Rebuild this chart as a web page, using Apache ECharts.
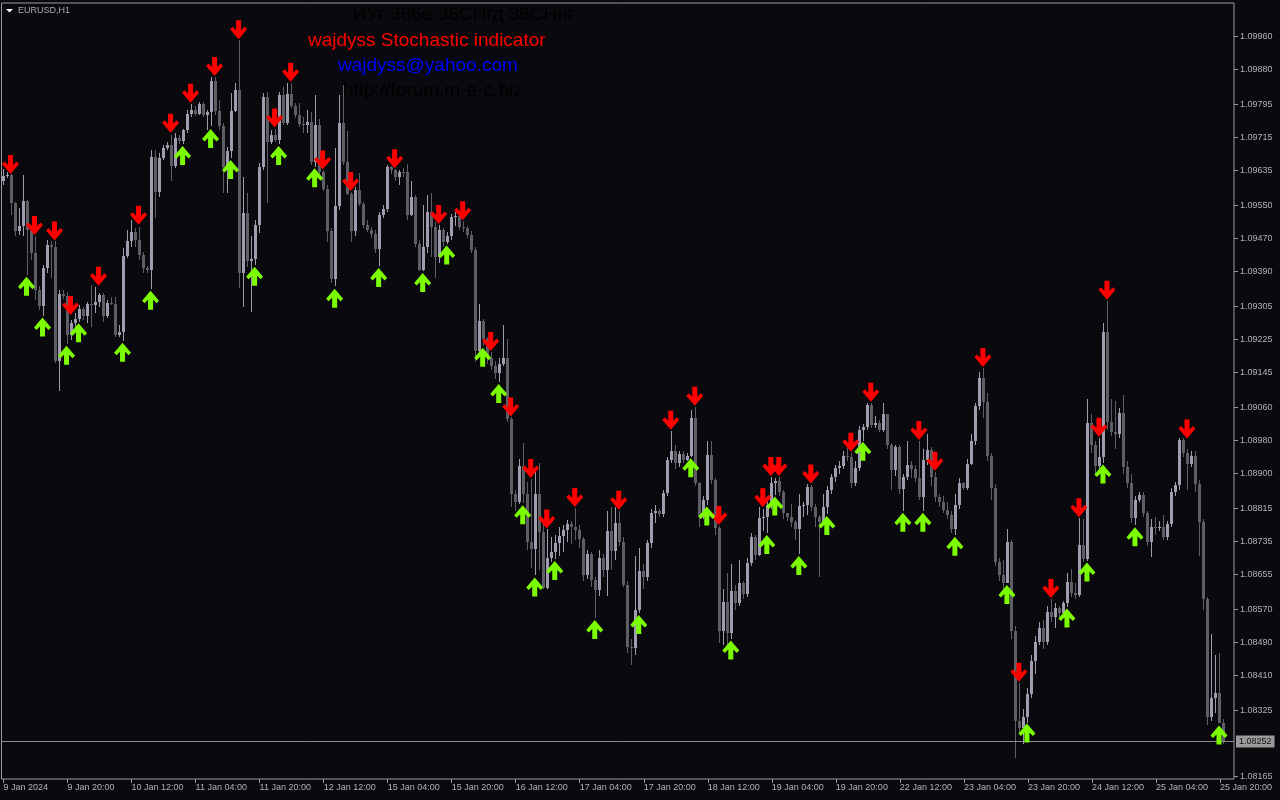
<!DOCTYPE html>
<html><head><meta charset="utf-8">
<script src="https://cdn.jsdelivr.net/npm/echarts@6/dist/echarts.min.js"></script>
<style>html,body{margin:0;padding:0;background:#0a0a0e;}#c{width:1280px;height:800px;}</style>
</head><body><div id="c"></div>
<script>
const tickLabels = ["9 Jan 2024","9 Jan 20:00","10 Jan 12:00","11 Jan 04:00","11 Jan 20:00","12 Jan 12:00","15 Jan 04:00","15 Jan 20:00","16 Jan 12:00","17 Jan 04:00","17 Jan 20:00","18 Jan 12:00","19 Jan 04:00","19 Jan 20:00","22 Jan 12:00","23 Jan 04:00","23 Jan 20:00","24 Jan 12:00","25 Jan 04:00","25 Jan 20:00"];
const priceTicks = [1.09960,1.09880,1.09795,1.09715,1.09635,1.09550,1.09470,1.09390,1.09305,1.09225,1.09145,1.09060,1.08980,1.08900,1.08815,1.08735,1.08655,1.08570,1.08490,1.08410,1.08325,1.08165];
const currentPrice = 1.08252;
const priceMin = 1.081594, priceMax = 1.100407;

const opens = [1.09610,1.09621,1.09623,1.09556,1.09489,1.09499,1.09561,1.09491,1.09434,1.09345,
1.09307,1.09398,1.09455,1.09450,1.09172,1.09336,1.09330,1.09236,1.09264,1.09274,
1.09300,1.09282,1.09310,1.09308,1.09316,1.09333,1.09281,1.09314,1.09312,1.09236,
1.09244,1.09427,1.09464,1.09485,1.09465,1.09430,1.09398,1.09393,1.09668,1.09583,
1.09666,1.09688,1.09696,1.09646,1.09714,1.09707,1.09732,1.09771,1.09781,1.09772,
1.09796,1.09770,1.09776,1.09852,1.09780,1.09743,1.09644,1.09682,1.09780,1.09829,
1.09385,1.09532,1.09415,1.09420,1.09502,1.09642,1.09814,1.09704,1.09721,1.09709,
1.09818,1.09749,1.09819,1.09790,1.09769,1.09747,1.09745,1.09752,1.09655,1.09745,
1.09630,1.09589,1.09489,1.09371,1.09548,1.09749,1.09655,1.09578,1.09487,1.09588,
1.09553,1.09503,1.09491,1.09480,1.09444,1.09526,1.09541,1.09642,1.09635,1.09619,
1.09632,1.09631,1.09527,1.09571,1.09457,1.09393,1.09448,1.09533,1.09498,1.09425,
1.09491,1.09462,1.09475,1.09521,1.09524,1.09498,1.09496,1.09478,1.09442,1.09197,
1.09270,1.09225,1.09179,1.09161,1.09144,1.09165,1.09179,1.09033,1.08851,1.08832,
1.08919,1.08851,1.08734,1.08718,1.08851,1.08759,1.08623,1.08696,1.08710,1.08732,
1.08749,1.08764,1.08778,1.08770,1.08764,1.08741,1.08655,1.08705,1.08641,1.08618,
1.08696,1.08665,1.08761,1.08711,1.08779,1.08735,1.08630,1.08480,1.08476,1.08569,
1.08664,1.08650,1.08732,1.08804,1.08809,1.08802,1.08852,1.08933,1.08955,1.08925,
1.08947,1.08933,1.08943,1.09035,1.08876,1.08795,1.08837,1.08945,1.08884,1.08767,
1.08517,1.08589,1.08513,1.08614,1.08587,1.08634,1.08608,1.08684,1.08747,1.08703,
1.08791,1.08795,1.08824,1.08876,1.08883,1.08856,1.08804,1.08795,1.08783,1.08765,
1.08821,1.08824,1.08868,1.08820,1.08795,1.08783,1.08818,1.08860,1.08892,1.08913,
1.08918,1.08943,1.08939,1.08876,1.08913,1.09006,1.09012,1.09066,1.09018,1.09023,
1.09006,1.09044,1.08969,1.08909,1.08965,1.08862,1.08892,1.08921,1.08910,1.08888,
1.08844,1.08933,1.08957,1.08892,1.08842,1.08832,1.08811,1.08799,1.08765,1.08824,
1.08878,1.08866,1.08923,1.08979,1.09064,1.09132,1.09074,1.08942,1.08866,1.08686,
1.08655,1.08634,1.08735,1.08519,1.08301,1.08282,1.08309,1.08365,1.08446,1.08492,
1.08525,1.08492,1.08565,1.08551,1.08573,1.08561,1.08585,1.08638,1.08611,1.08605,
1.08726,1.08692,1.09022,1.08969,1.08918,1.08941,1.09244,1.09026,1.09001,1.08996,
1.09047,1.08916,1.08876,1.08791,1.08837,1.08848,1.08805,1.08735,1.08771,1.08769,
1.08770,1.08747,1.08777,1.08856,1.08872,1.08981,1.08950,1.08922,1.08942,1.08874,
1.08783,1.08595,1.08309,1.08355,1.08369,1.08296];

const closes = [1.09621,1.09623,1.09556,1.09489,1.09499,1.09561,1.09491,1.09434,1.09345,1.09307,
1.09398,1.09455,1.09450,1.09172,1.09336,1.09330,1.09236,1.09264,1.09274,1.09300,
1.09282,1.09310,1.09308,1.09316,1.09333,1.09281,1.09314,1.09312,1.09236,1.09244,
1.09427,1.09464,1.09485,1.09465,1.09430,1.09398,1.09393,1.09668,1.09583,1.09666,
1.09688,1.09696,1.09646,1.09714,1.09707,1.09732,1.09771,1.09781,1.09772,1.09796,
1.09770,1.09776,1.09852,1.09780,1.09743,1.09644,1.09682,1.09780,1.09829,1.09385,
1.09532,1.09415,1.09420,1.09502,1.09642,1.09814,1.09704,1.09721,1.09709,1.09818,
1.09749,1.09819,1.09790,1.09769,1.09747,1.09745,1.09752,1.09655,1.09745,1.09630,
1.09589,1.09489,1.09371,1.09548,1.09749,1.09655,1.09578,1.09487,1.09588,1.09553,
1.09503,1.09491,1.09480,1.09444,1.09526,1.09541,1.09642,1.09635,1.09619,1.09632,
1.09631,1.09527,1.09571,1.09457,1.09393,1.09448,1.09533,1.09498,1.09425,1.09491,
1.09462,1.09475,1.09521,1.09524,1.09498,1.09496,1.09478,1.09442,1.09197,1.09270,
1.09225,1.09179,1.09161,1.09144,1.09165,1.09179,1.09033,1.08851,1.08832,1.08919,
1.08851,1.08734,1.08718,1.08851,1.08759,1.08623,1.08696,1.08710,1.08732,1.08749,
1.08764,1.08778,1.08770,1.08764,1.08741,1.08655,1.08705,1.08641,1.08618,1.08696,
1.08665,1.08761,1.08711,1.08779,1.08735,1.08630,1.08480,1.08476,1.08569,1.08664,
1.08650,1.08732,1.08804,1.08809,1.08802,1.08852,1.08933,1.08955,1.08925,1.08947,
1.08933,1.08943,1.09035,1.08876,1.08795,1.08837,1.08945,1.08884,1.08767,1.08517,
1.08589,1.08513,1.08614,1.08587,1.08634,1.08608,1.08684,1.08747,1.08703,1.08791,
1.08795,1.08824,1.08876,1.08883,1.08856,1.08804,1.08795,1.08783,1.08765,1.08821,
1.08824,1.08868,1.08820,1.08795,1.08783,1.08818,1.08860,1.08892,1.08913,1.08918,
1.08943,1.08939,1.08876,1.08913,1.09006,1.09012,1.09066,1.09018,1.09023,1.09006,
1.09044,1.08969,1.08909,1.08965,1.08862,1.08892,1.08921,1.08910,1.08888,1.08844,
1.08933,1.08957,1.08892,1.08842,1.08832,1.08811,1.08799,1.08765,1.08824,1.08878,
1.08866,1.08923,1.08979,1.09064,1.09132,1.09074,1.08942,1.08866,1.08686,1.08655,
1.08634,1.08735,1.08519,1.08301,1.08282,1.08309,1.08365,1.08446,1.08492,1.08525,
1.08492,1.08565,1.08551,1.08573,1.08561,1.08585,1.08638,1.08611,1.08605,1.08726,
1.08692,1.09022,1.08969,1.08918,1.08941,1.09244,1.09026,1.09001,1.08996,1.09047,
1.08916,1.08876,1.08791,1.08837,1.08848,1.08805,1.08735,1.08771,1.08769,1.08770,
1.08747,1.08777,1.08856,1.08872,1.08981,1.08950,1.08922,1.08942,1.08874,1.08783,
1.08595,1.08309,1.08355,1.08369,1.08296,1.08252];

const highs = [1.09639,1.09632,1.09626,1.09558,1.09543,1.09624,1.09564,1.09495,1.09475,1.09354,
1.09406,1.09467,1.09463,1.09463,1.09346,1.09344,1.09340,1.09272,1.09288,1.09308,
1.09304,1.09316,1.09357,1.09353,1.09338,1.09337,1.09321,1.09328,1.09328,1.09260,
1.09446,1.09490,1.09514,1.09495,1.09498,1.09436,1.09402,1.09684,1.09684,1.09676,
1.09696,1.09704,1.09721,1.09725,1.09720,1.09736,1.09781,1.09796,1.09790,1.09800,
1.09800,1.09781,1.09862,1.09861,1.09805,1.09750,1.09692,1.09822,1.09846,1.09950,
1.09620,1.09579,1.09475,1.09514,1.09652,1.09822,1.09825,1.09732,1.09735,1.09826,
1.09838,1.09846,1.09847,1.09798,1.09798,1.09765,1.09781,1.09776,1.09818,1.09760,
1.09635,1.09600,1.09495,1.09690,1.09818,1.09843,1.09731,1.09583,1.09595,1.09628,
1.09558,1.09515,1.09498,1.09490,1.09535,1.09550,1.09649,1.09645,1.09638,1.09635,
1.09640,1.09650,1.09608,1.09575,1.09465,1.09550,1.09575,1.09580,1.09510,1.09503,
1.09495,1.09485,1.09528,1.09535,1.09526,1.09512,1.09499,1.09488,1.09448,1.09311,
1.09275,1.09230,1.09195,1.09173,1.09180,1.09261,1.09227,1.09036,1.08860,1.08935,
1.08974,1.08880,1.08887,1.08910,1.08925,1.08785,1.08765,1.08745,1.08750,1.08770,
1.08775,1.08788,1.08785,1.08816,1.08775,1.08745,1.08715,1.08710,1.08648,1.08714,
1.08705,1.08809,1.08820,1.08820,1.08809,1.08745,1.08640,1.08500,1.08699,1.08720,
1.08680,1.08740,1.08815,1.08824,1.08815,1.08860,1.08940,1.09004,1.08970,1.08955,
1.08955,1.08950,1.09055,1.09062,1.08880,1.08845,1.08980,1.08980,1.08890,1.08772,
1.08620,1.08660,1.08680,1.08630,1.08690,1.08640,1.08695,1.08755,1.08750,1.08820,
1.08815,1.08830,1.08891,1.08890,1.08891,1.08860,1.08805,1.08825,1.08788,1.08850,
1.08830,1.08875,1.08873,1.08825,1.08800,1.08850,1.08870,1.08900,1.08920,1.08930,
1.08955,1.08970,1.08950,1.08930,1.09015,1.09020,1.09070,1.09072,1.09040,1.09030,
1.09070,1.09045,1.08975,1.08970,1.08970,1.08900,1.08980,1.08930,1.08920,1.08978,
1.08960,1.08997,1.08965,1.08904,1.08850,1.08845,1.08830,1.08810,1.08850,1.08890,
1.08880,1.08935,1.08995,1.09070,1.09145,1.09155,1.09095,1.08950,1.08875,1.08695,
1.08690,1.08765,1.08740,1.08530,1.08393,1.08330,1.08380,1.08460,1.08505,1.08540,
1.08545,1.08580,1.08595,1.08585,1.08580,1.08590,1.08660,1.08668,1.08635,1.08792,
1.08790,1.09080,1.09045,1.08980,1.08987,1.09265,1.09319,1.09080,1.09075,1.09060,
1.09090,1.08930,1.08900,1.08845,1.08855,1.08855,1.08810,1.08790,1.08795,1.08785,
1.08800,1.08785,1.08865,1.08880,1.08985,1.08986,1.08960,1.08955,1.08955,1.08885,
1.08790,1.08600,1.08510,1.08460,1.08465,1.08305];

const lows = [1.09600,1.09616,1.09527,1.09475,1.09479,1.09475,1.09382,1.09418,1.09321,1.09297,
1.09281,1.09386,1.09373,1.09168,1.09099,1.09324,1.09214,1.09224,1.09244,1.09268,
1.09272,1.09264,1.09256,1.09288,1.09304,1.09268,1.09276,1.09308,1.09232,1.09232,
1.09222,1.09422,1.09450,1.09450,1.09418,1.09386,1.09386,1.09348,1.09520,1.09571,
1.09660,1.09684,1.09608,1.09640,1.09700,1.09700,1.09725,1.09765,1.09767,1.09769,
1.09765,1.09733,1.09742,1.09769,1.09733,1.09581,1.09580,1.09666,1.09777,1.09349,
1.09304,1.09400,1.09292,1.09406,1.09482,1.09636,1.09555,1.09700,1.09704,1.09700,
1.09745,1.09745,1.09785,1.09761,1.09741,1.09725,1.09726,1.09649,1.09644,1.09625,
1.09585,1.09462,1.09361,1.09355,1.09539,1.09649,1.09575,1.09462,1.09475,1.09548,
1.09495,1.09485,1.09472,1.09434,1.09403,1.09520,1.09535,1.09625,1.09608,1.09600,
1.09620,1.09515,1.09525,1.09448,1.09390,1.09391,1.09435,1.09425,1.09375,1.09410,
1.09450,1.09457,1.09465,1.09500,1.09490,1.09485,1.09470,1.09435,1.09170,1.09190,
1.09210,1.09165,1.09150,1.09130,1.09122,1.09160,1.09025,1.08820,1.08810,1.08825,
1.08828,1.08715,1.08670,1.08653,1.08665,1.08620,1.08620,1.08685,1.08693,1.08700,
1.08710,1.08735,1.08730,1.08740,1.08720,1.08640,1.08645,1.08625,1.08550,1.08604,
1.08650,1.08604,1.08666,1.08690,1.08725,1.08625,1.08464,1.08436,1.08459,1.08562,
1.08620,1.08640,1.08720,1.08779,1.08795,1.08795,1.08845,1.08925,1.08910,1.08915,
1.08925,1.08930,1.08939,1.08870,1.08770,1.08790,1.08824,1.08875,1.08750,1.08490,
1.08485,1.08480,1.08500,1.08570,1.08580,1.08595,1.08600,1.08675,1.08690,1.08700,
1.08760,1.08756,1.08815,1.08848,1.08845,1.08790,1.08785,1.08770,1.08740,1.08705,
1.08795,1.08800,1.08810,1.08770,1.08650,1.08780,1.08802,1.08850,1.08880,1.08900,
1.08910,1.08930,1.08865,1.08870,1.08905,1.08979,1.09005,1.09010,1.09010,1.09000,
1.09000,1.08960,1.08860,1.08895,1.08850,1.08810,1.08885,1.08890,1.08880,1.08835,
1.08810,1.08920,1.08870,1.08830,1.08820,1.08805,1.08790,1.08755,1.08752,1.08815,
1.08860,1.08860,1.08920,1.08970,1.09055,1.09035,1.08930,1.08835,1.08675,1.08640,
1.08620,1.08634,1.08500,1.08210,1.08270,1.08245,1.08296,1.08355,1.08415,1.08485,
1.08475,1.08485,1.08540,1.08525,1.08550,1.08560,1.08576,1.08600,1.08595,1.08600,
1.08685,1.08687,1.08950,1.08895,1.08910,1.08925,1.09005,1.08990,1.08960,1.08985,
1.08900,1.08865,1.08780,1.08774,1.08830,1.08795,1.08725,1.08698,1.08750,1.08760,
1.08740,1.08740,1.08770,1.08845,1.08860,1.08940,1.08860,1.08915,1.08855,1.08700,
1.08570,1.08290,1.08300,1.08320,1.08294,1.08245];

const sellBars = [2,8,13,17,24,34,42,47,53,59,68,72,80,87,98,109,115,122,127,132,136,143,154,167,173,179,190,192,194,202,212,217,229,233,245,254,262,269,274,276,296];
const sellPrices = [1.09626,1.09478,1.09465,1.09284,1.09355,1.09503,1.09726,1.09799,1.09864,1.09953,1.09739,1.09850,1.09637,1.09585,1.09640,1.09505,1.09514,1.09197,1.09038,1.08889,1.08767,1.08819,1.08812,1.09006,1.09064,1.08775,1.08818,1.08894,1.08894,1.08876,1.08953,1.09074,1.08981,1.08907,1.09158,1.08395,1.08598,1.08794,1.08989,1.09321,1.08985];
const buyBars = [6,10,16,19,30,37,45,52,57,63,69,78,83,94,105,111,120,124,130,133,138,148,159,172,176,182,191,193,199,206,215,225,230,238,251,256,266,271,275,283,304];
const buyPrices = [1.09377,1.09278,1.09210,1.09264,1.09217,1.09343,1.09694,1.09735,1.09660,1.09401,1.09694,1.09640,1.09348,1.09398,1.09386,1.09453,1.09205,1.09117,1.08823,1.08648,1.08688,1.08545,1.08557,1.08937,1.08820,1.08495,1.08751,1.08844,1.08700,1.08797,1.08977,1.08805,1.08805,1.08747,1.08630,1.08294,1.08573,1.08684,1.08922,1.08770,1.08289];

const slotCount = 308;

const chart = echarts.init(document.getElementById('c'), null, {renderer: 'canvas', width: 1280, height: 800});
const cats = Array.from({length: slotCount}, (_, i) => String(i));
const candleRows = opens.map((o, i) => [i, o, closes[i], lows[i], highs[i]]);
const FONT = '"Liberation Sans", Arial, sans-serif';
const AXIS_COLOR = '#9a9aa2';
const LABEL_COLOR = '#aeb0be';
const BULL = '#9e9eae';
const BEAR = '#5e5e66';
const downArrow = 'path://M6,0 L11,0 L11,10 L14.5,6.5 L17,9 L8.5,19 L0,9 L2.5,6.5 L6,10 Z';
const upArrow = 'path://M6,19 L11,19 L11,9 L14.5,12.5 L17,10 L8.5,0 L0,10 L2.5,12.5 L6,9 Z';

function renderCandle(params, api) {
  const i = api.value(0), o = api.value(1), c = api.value(2), l = api.value(3), h = api.value(4);
  const pO = api.coord([i, o]), pC = api.coord([i, c]);
  const pL = api.coord([i, l]), pH = api.coord([i, h]);
  const cx = Math.floor(pO[0]);
  const col = c >= o ? BULL : BEAR;
  const top = Math.round(Math.min(pO[1], pC[1]));
  const bot = Math.round(Math.max(pO[1], pC[1]));
  return {
    type: 'group',
    children: [
      {type: 'line', shape: {x1: cx + 0.5, y1: Math.round(pH[1]), x2: cx + 0.5, y2: Math.round(pL[1])},
       style: {stroke: col, lineWidth: 1}},
      {type: 'rect', shape: {x: cx - 1, y: top, width: 3, height: Math.max(1, bot - top)},
       style: {fill: col}}
    ]
  };
}

function renderPriceLine(params, api) {
  const cs = params.coordSys;
  const p = api.coord([api.value(0), api.value(1)]);
  const y = Math.round(p[1]) + 0.5;
  return {
    type: 'group',
    children: [
      {type: 'line', shape: {x1: cs.x, y1: y, x2: cs.x + cs.width, y2: y},
       style: {stroke: '#8c8c94', lineWidth: 1}},
      {type: 'text', x: cs.x + cs.width + 2, y: y,
       style: {text: api.value(1).toFixed(5), fill: '#141414', backgroundColor: '#9a9a9a',
         padding: [2, 3, 1, 3], font: '9px ' + FONT, verticalAlign: 'middle', align: 'left'}}
    ]
  };
}

chart.setOption({
  backgroundColor: '#0a0a0e',
  animation: false,
  grid: {left: 1.5, right: 46, top: 3, bottom: 21, show: true, borderColor: AXIS_COLOR, borderWidth: 1},
  xAxis: {
    type: 'category', data: cats, boundaryGap: true,
    axisLine: {show: false},
    axisTick: {show: true, alignWithLabel: true, interval: 15, length: 4, lineStyle: {color: AXIS_COLOR}},
    axisLabel: {interval: 15, align: 'left', margin: 4, color: LABEL_COLOR, fontFamily: FONT, fontSize: 9,
      formatter: (v, i) => tickLabels[i / 16] || ''},
    splitLine: {show: false}
  },
  yAxis: {
    type: 'value', position: 'right', min: priceMin, max: priceMax,
    axisLine: {show: false},
    axisTick: {show: true, customValues: priceTicks, length: 4, lineStyle: {color: AXIS_COLOR}},
    axisLabel: {customValues: priceTicks, margin: 6, color: LABEL_COLOR, fontFamily: FONT, fontSize: 9,
      formatter: v => v.toFixed(5)},
    splitLine: {show: false}
  },
  series: [
    {
      type: 'custom', name: 'EURUSD', data: candleRows, renderItem: renderCandle, clip: true, silent: true,
      encode: {x: 0, y: [1, 2, 3, 4]}, z: 2
    },
    {
      type: 'custom', name: 'Bid', data: [[opens.length - 1, currentPrice]], renderItem: renderPriceLine,
      clip: false, silent: true, encode: {x: 0, y: 1}, z: 3
    },
    {
      type: 'scatter', silent: true, z: 5,
      data: sellBars.map((b, k) => [b, sellPrices[k]]),
      symbol: downArrow, symbolSize: [17, 19], symbolOffset: [-1, -9.5],
      itemStyle: {color: '#ff0000', opacity: 1}
    },
    {
      type: 'scatter', silent: true, z: 5,
      data: buyBars.map((b, k) => [b, buyPrices[k]]),
      symbol: upArrow, symbolSize: [17, 19], symbolOffset: [-1, 9.5],
      itemStyle: {color: '#7cfc00', opacity: 1}
    }
  ],
  graphic: [
    {type: 'polygon', z: 100, shape: {points: [[6, 9], [13, 9], [9.5, 12.5]]}, style: {fill: '#ffffff'}},
    {type: 'text', z: 100, x: 18, y: 11, style: {text: 'EURUSD,H1', fill: '#a4acbc', font: '9px ' + FONT, verticalAlign: 'middle', align: 'left'}},
    {type: 'text', z: 100, x: 353, y: 15, style: {text: 'ИУг 366е 36СНгд 36СНнг', fill: '#000000', font: '19px ' + FONT, verticalAlign: 'middle', align: 'left'}},
    {type: 'text', z: 100, x: 308, y: 41, style: {text: 'wajdyss Stochastic indicator', fill: '#ff0000', font: '19px ' + FONT, verticalAlign: 'middle', align: 'left'}},
    {type: 'text', z: 100, x: 338, y: 66, style: {text: 'wajdyss@yahoo.com', fill: '#0000ff', font: '19px ' + FONT, verticalAlign: 'middle', align: 'left'}},
    {type: 'text', z: 100, x: 343, y: 91, style: {text: 'http://forum.m-e-c.biz', fill: '#000000', font: '19px ' + FONT, verticalAlign: 'middle', align: 'left'}}
  ]
});
</script>
</body></html>
